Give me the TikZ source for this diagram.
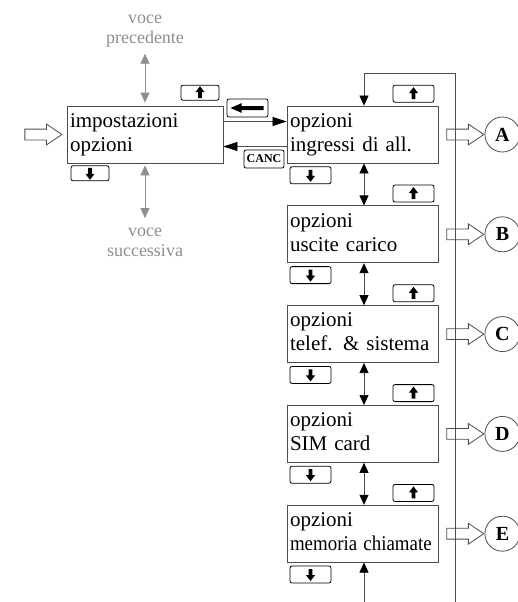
\documentclass[tikz,border=0pt]{standalone}
\usepackage{fontspec}
\setmainfont{Liberation Serif}
\usepackage{graphicx}
\usepackage{tikz}
\usetikzlibrary{arrows.meta,positioning,shapes.arrows}
\definecolor{wireGray}{HTML}{4D4D4D}
\definecolor{hintGray}{HTML}{8F8F8F}
\newcommand{\menutext}[2]{#1\strut\\#2\strut}
\tikzset{
  mbox/.style={draw=wireGray,line width=0.8pt,minimum height=57pt,text width=145pt,
    inner xsep=3pt,inner ysep=0pt,align=left,font=\fontsize{21}{24}\selectfont},
  keybox/.style={draw=black,line width=0.8pt,rounded corners=2pt,minimum width=41pt,
    minimum height=17pt,inner sep=0pt},
  upkey/.style={keybox,path picture={\fill[black,sharp corners,shift={(path picture bounding box.center)}]
    (0pt,6.5pt) -- (4.6pt,0.5pt) -- (1.8pt,0.5pt) -- (1.8pt,-5.5pt) -- (-1.8pt,-5.5pt)
    -- (-1.8pt,0.5pt) -- (-4.6pt,0.5pt) -- cycle;}},
  downkey/.style={keybox,path picture={\fill[black,sharp corners,shift={(path picture bounding box.center)}]
    (0pt,-6.5pt) -- (4.6pt,-0.5pt) -- (1.8pt,-0.5pt) -- (1.8pt,5.5pt) -- (-1.8pt,5.5pt)
    -- (-1.8pt,-0.5pt) -- (-4.6pt,-0.5pt) -- cycle;}},
  backkey/.style={keybox,minimum height=18pt,path picture={\fill[black,sharp corners,shift={(path picture bounding box.center)}]
    (-17pt,0pt) -- (-6pt,4.8pt) -- (-6pt,2pt) -- (16pt,2pt) -- (16pt,-2pt)
    -- (-6pt,-2pt) -- (-6pt,-4.8pt) -- cycle;}},
  canckey/.style={keybox,minimum width=40pt,minimum height=18pt,font=\bfseries\fontsize{12}{12}\selectfont},
  harrow/.style={single arrow,draw=wireGray,fill=white,line width=0.8pt,minimum height=37pt,
    inner xsep=0pt,inner ysep=5pt,single arrow head extend=5pt,single arrow tip angle=68},
  choice/.style={circle,draw=wireGray,line width=0.8pt,minimum size=35pt,inner sep=0pt,
    font=\bfseries\fontsize{20}{20}\selectfont},
  hflow/.style={draw=wireGray,line width=0.7pt,-{Triangle[length=14pt,width=9pt,color=black]}},
  vflow/.style={draw=wireGray,line width=0.7pt,-{Triangle[length=10pt,width=9pt,color=black]}},
  vboth/.style={vflow,{Triangle[length=10pt,width=9pt,color=black]}-{Triangle[length=10pt,width=9pt,color=black]}},
  hint/.style={draw=hintGray,line width=0.8pt,{Triangle[length=10pt,width=9pt]}-{Triangle[length=10pt,width=9pt]}},
  hinttext/.style={text=hintGray,align=center,font=\fontsize{18}{20}\selectfont},
}

\begin{document}
\begin{tikzpicture}[x=1pt,y=-1pt]
\useasboundingbox (0,0) rectangle (518,602);
% main menu entry
\node[mbox,text width=150pt] (setup) at (145,134.5) {\menutext{impostazioni}{opzioni}};
\node[harrow,left=4pt of setup] (entry) {};
\node[upkey,minimum width=38pt,minimum height=15pt,above=5pt of setup.north east,anchor=south east,xshift=-4pt] (setupup) {};
\node[downkey,minimum width=38pt,minimum height=15pt,below=2pt of setup.south west,anchor=north west,xshift=4pt] (setupdn) {};
\node[hinttext] (prev) at (145,31) {voce\\precedente};
\node[hinttext] (next) at (145,242) {voce\\successiva};
\draw[hint,shorten <=3pt,shorten >=3pt] (prev) -- (setup);
\draw[hint,shorten <=2pt,shorten >=6pt] (setup) -- (next);

% options submenu
\node[mbox] (ingr) at (362.5,134.5) {\menutext{opzioni}{ingressi di all.}};
\node[mbox,below=42pt of ingr] (usci) {\menutext{opzioni}{uscite carico}};
\node[mbox,below=42pt of usci] (tele) {\menutext{opzioni}{telef. \& sistema}};
\node[mbox,below=42pt of tele] (simc) {\menutext{opzioni}{SIM card}};
\node[mbox,below=42pt of simc] (memo) {\menutext{opzioni}{\scalebox{0.9}[1]{memoria chiamate}}};

\node[backkey] (backk) at (247.5,108) {};
\node[canckey] (canck) at (264,159) {CANC};
\draw[hflow] ([yshift=13pt]setup.east) -- ([yshift=13pt]ingr.west);
\draw[hflow] ([yshift=-12pt]ingr.west) -- ([yshift=-12pt]setup.east);

\node[upkey,above=3pt of ingr.north east,anchor=south east,xshift=-4pt] (ingrup) {};
\node[upkey,above=3pt of usci.north east,anchor=south east,xshift=-4pt] (usciup) {};
\node[upkey,above=3pt of tele.north east,anchor=south east,xshift=-4pt] (teleup) {};
\node[upkey,above=3pt of simc.north east,anchor=south east,xshift=-4pt] (simcup) {};
\node[upkey,above=3pt of memo.north east,anchor=south east,xshift=-4pt] (memoup) {};
\node[downkey,below=3pt of ingr.south west,anchor=north west,xshift=3pt] (ingrdn) {};
\node[downkey,below=3pt of usci.south west,anchor=north west,xshift=3pt] (uscidn) {};
\node[downkey,below=3pt of tele.south west,anchor=north west,xshift=3pt] (teledn) {};
\node[downkey,below=3pt of simc.south west,anchor=north west,xshift=3pt] (simcdn) {};
\node[downkey,below=3pt of memo.south west,anchor=north west,xshift=3pt] (memodn) {};

% exits to the sub-menus
\node[harrow,right=8pt of ingr] (toA) {};
\node[harrow,right=8pt of usci] (toB) {};
\node[harrow,right=8pt of tele] (toC) {};
\node[harrow,right=8pt of simc] (toD) {};
\node[harrow,right=8pt of memo] (toE) {};
\node[choice,right=0pt of toA] (chA) {A};
\node[choice,right=0pt of toB] (chB) {B};
\node[choice,right=0pt of toC] (chC) {C};
\node[choice,right=0pt of toD] (chD) {D};
\node[choice,right=0pt of toE] (chE) {E};

\draw[vboth] ([xshift=1.5pt]ingr.south) -- ([xshift=1.5pt]usci.north);
\draw[vboth] ([xshift=1.5pt]usci.south) -- ([xshift=1.5pt]tele.north);
\draw[vboth] ([xshift=1.5pt]tele.south) -- ([xshift=1.5pt]simc.north);
\draw[vboth] ([xshift=1.5pt]simc.south) -- ([xshift=1.5pt]memo.north);

% return loop
\coordinate (looptop) at (455,73);
\coordinate (loopbot) at (455,602);
\coordinate (feedbot) at (364,602);
\draw[vflow] (loopbot) -- (looptop) -| ([xshift=1.5pt]ingr.north);
\draw[vflow] (feedbot) -- ([xshift=1.5pt]memo.south);
\end{tikzpicture}
\end{document}
